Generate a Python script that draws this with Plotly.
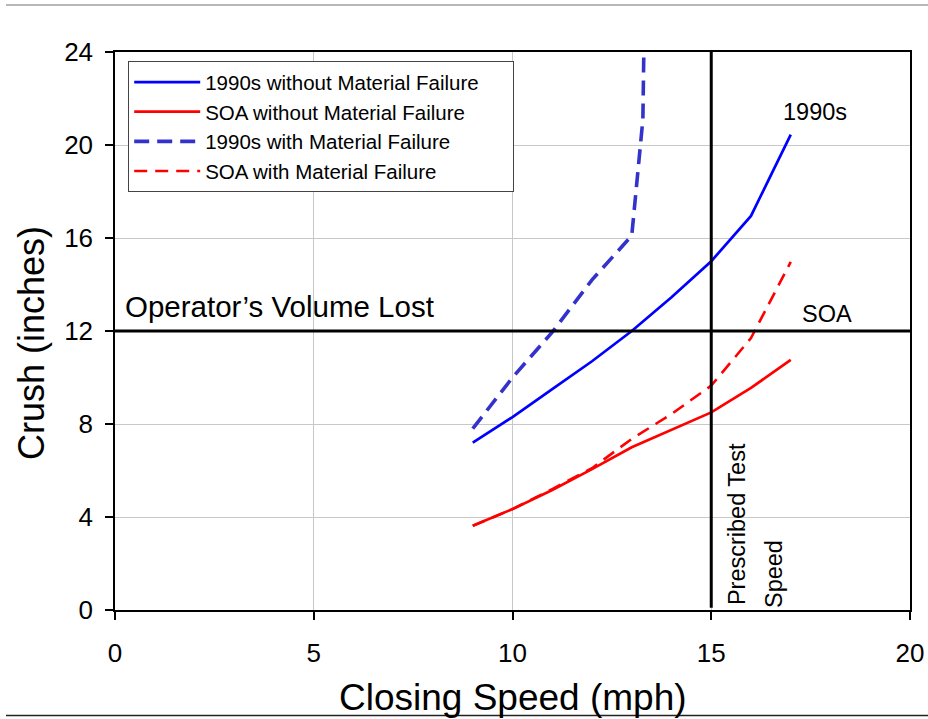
import plotly.graph_objects as go

# ---- data ----
speed = [9, 10, 11, 12, 13, 14, 15, 16, 17]
crush_1990s_no_fail = [7.2, 8.3, 9.5, 10.7, 12.0, 13.45, 15.0, 16.95, 20.45]
crush_soa_no_fail = [3.62, 4.34, 5.16, 6.06, 7.0, 7.75, 8.5, 9.55, 10.76]
speed_1990s_fail = [9, 10, 11, 12, 13, 13.28, 13.32]
crush_1990s_fail = [7.8, 10.0, 11.95, 14.2, 16.1, 21.1, 26.0]
crush_soa_fail = [3.62, 4.34, 5.2, 6.1, 7.36, 8.43, 9.65, 11.7, 14.97]

series_names = ["1990s without Material Failure", "SOA without Material Failure",
                "1990s with Material Failure", "SOA with Material Failure"]

volume_lost_crush = 12      # horizontal reference
prescribed_speed = 15       # vertical reference

x_ticks = [0, 5, 10, 15, 20]
y_ticks = [0, 4, 8, 12, 16, 20, 24]

FONT = "Liberation Sans, Arial, sans-serif"
PAD = "\u00a0" * 5  # right padding inside the legend box

fig = go.Figure()
fig.add_trace(go.Scatter(x=speed, y=crush_1990s_no_fail, mode="lines",
                         name=series_names[0] + PAD,
                         line=dict(color="#0000ff", width=2.7)))
fig.add_trace(go.Scatter(x=speed, y=crush_soa_no_fail, mode="lines",
                         name=series_names[1],
                         line=dict(color="#ff0000", width=2.7)))
fig.add_trace(go.Scatter(x=speed_1990s_fail, y=crush_1990s_fail, mode="lines",
                         name=series_names[2],
                         line=dict(color="#3333cc", width=3.6, dash="15px,8px")))
fig.add_trace(go.Scatter(x=speed, y=crush_soa_fail, mode="lines",
                         name=series_names[3],
                         line=dict(color="#ff0000", width=2.6, dash="13px,8px")))

# reference lines
fig.add_shape(type="line", xref="x", yref="y", x0=x_ticks[0], x1=x_ticks[-1],
              y0=volume_lost_crush, y1=volume_lost_crush,
              line=dict(color="black", width=3), layer="above")
fig.add_shape(type="line", xref="x", yref="y", x0=prescribed_speed, x1=prescribed_speed,
              y0=y_ticks[0] + 0.1, y1=y_ticks[-1],
              line=dict(color="black", width=3), layer="above")

# page rules (top / bottom)
fig.add_shape(type="line", xref="paper", yref="paper", x0=(6 - 115) / 795, x1=1.03,
              y0=(610 - 5) / 558, y1=(610 - 5) / 558,
              line=dict(color="#a0a0a0", width=1.5))
fig.add_shape(type="line", xref="paper", yref="paper", x0=(6 - 115) / 795, x1=1.03,
              y0=(610 - 715.5) / 558, y1=(610 - 715.5) / 558,
              line=dict(color="#222222", width=1.5))

ann_font = dict(family=FONT, size=23.5, color="black")
fig.add_annotation(x=4.14, y=13.05, text="Operator\u2019s Volume Lost", showarrow=False,
                   font=dict(family=FONT, size=29.5, color="black"))
fig.add_annotation(x=17.6, y=21.43, text="1990s", showarrow=False, font=ann_font)
fig.add_annotation(x=17.9, y=12.73, text="SOA", showarrow=False, font=ann_font)
fig.add_annotation(x=15.65, y=3.7, text="Prescribed Test", showarrow=False,
                   textangle=-90, font=ann_font)
fig.add_annotation(x=16.58, y=1.55, text="Speed", showarrow=False,
                   textangle=-90, font=ann_font)

# axis titles
fig.add_annotation(xref="paper", yref="paper", x=0, y=(610 - 343) / 558, xshift=-84,
                   xanchor="center", yanchor="middle",
                   text="Crush (inches)", textangle=-90, showarrow=False,
                   font=dict(family=FONT, size=36, color="black"))
fig.add_annotation(xref="paper", yref="paper", x=0.5001, y=0, yshift=-87,
                   xanchor="center", yanchor="middle",
                   text="Closing Speed (mph)", showarrow=False,
                   font=dict(family=FONT, size=37, color="black"))

axis_common = dict(showline=True, linecolor="black", linewidth=1.5, mirror=True,
                   ticks="outside", ticklen=8, tickwidth=1.5, tickcolor="black",
                   showgrid=True, gridcolor="#c8c8c8", gridwidth=1, zeroline=False,
                   automargin=False,
                   tickfont=dict(family=FONT, size=26, color="black"))

fig.update_xaxes(range=[x_ticks[0], x_ticks[-1]], tickvals=x_ticks,
                 ticklabelstandoff=11, **axis_common)
fig.update_yaxes(range=[y_ticks[0], y_ticks[-1]], tickvals=y_ticks,
                 ticklabelstandoff=7, **axis_common)

fig.update_layout(
    width=928, height=719,
    margin=dict(l=115, r=18, t=52, b=109),
    paper_bgcolor="white", plot_bgcolor="white",
    font=dict(family=FONT, color="black"),
    showlegend=True,
    legend=dict(x=(128 - 115) / 795, y=(610 - 61) / 558, xanchor="left", yanchor="top",
                bgcolor="white", bordercolor="#444444", borderwidth=1.2,
                font=dict(family=FONT, size=20.5, color="black"),
                itemwidth=66, tracegroupgap=0),
)

fig.write_html("out.html", config={"displayModeBar": False},
               post_script="document.body.style.margin='0';document.body.style.overflow='hidden';")
